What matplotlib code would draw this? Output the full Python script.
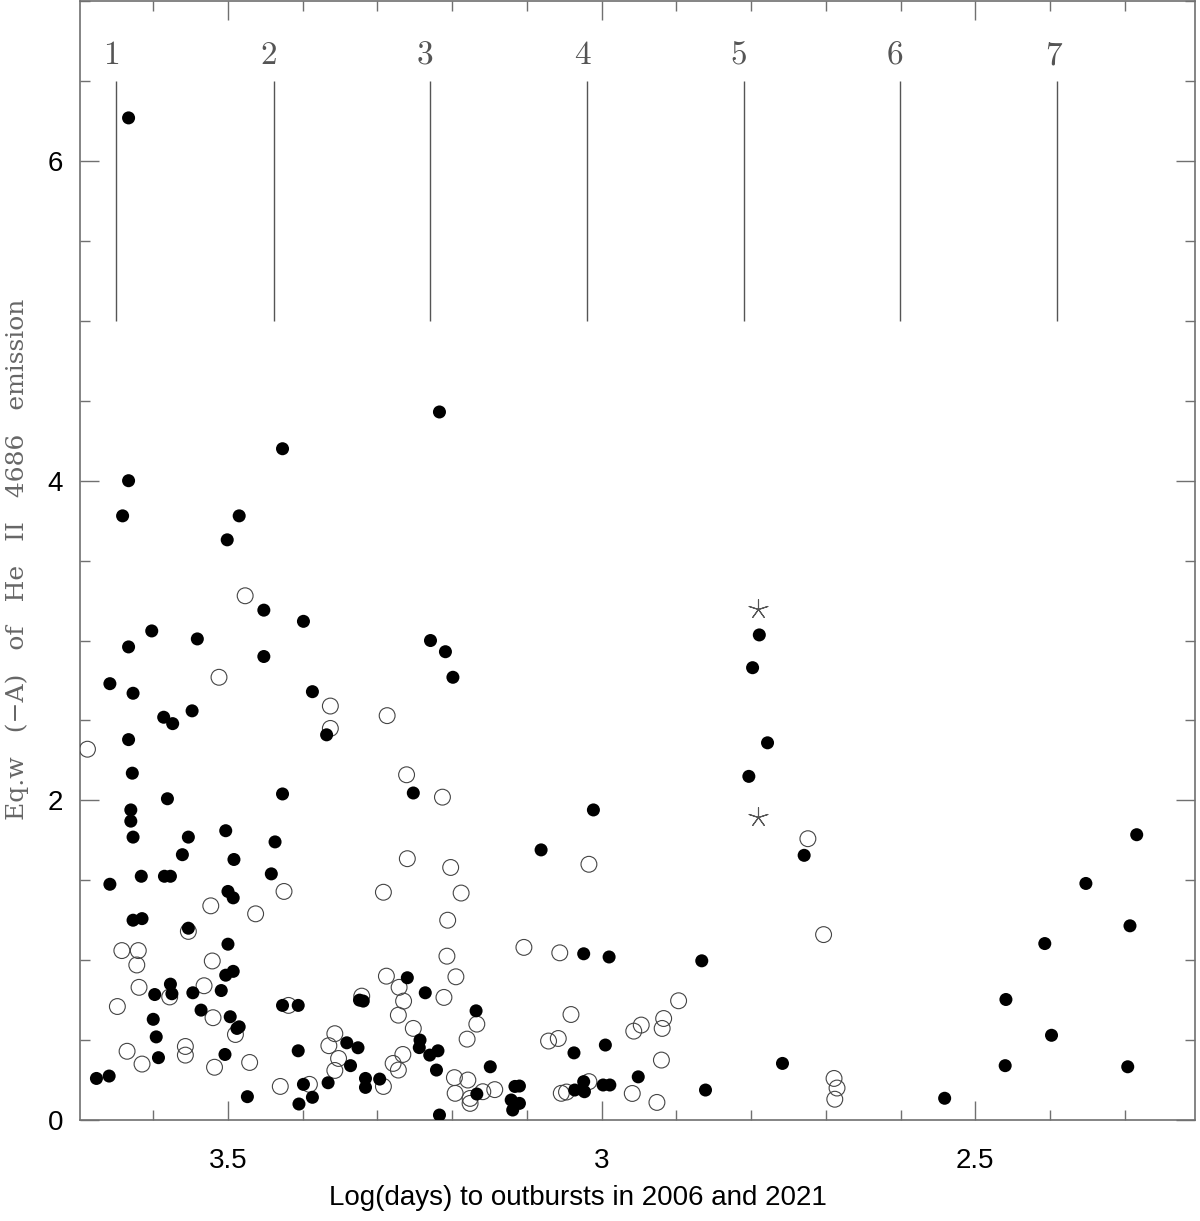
import matplotlib
matplotlib.use('Agg')
import matplotlib.pyplot as plt
from matplotlib.ticker import MultipleLocator

# He II 4686 equivalent widths vs log(days) to outbursts
filled_x = [3.633, 3.427, 3.633, 3.641, 3.485, 3.501, 3.452, 3.399, 3.602, 3.541,
            3.633, 3.452, 3.658, 3.627, 3.387, 3.586, 3.574, 3.548, 3.368, 3.633,
            3.628, 3.427, 3.581, 3.630, 3.630, 3.627, 3.553, 3.503, 3.437, 3.561,
            3.492, 3.442, 3.658, 3.616, 3.585, 3.577, 3.500, 3.493, 3.627, 3.615,
            3.553, 3.500, 3.503, 3.493, 3.577, 3.575, 3.509, 3.598, 3.547, 3.427,
            3.406, 3.324, 3.319, 3.536, 3.600, 3.497, 3.488, 3.485, 3.596, 3.341,
            3.326, 3.336, 3.406, 3.593, 3.504, 3.676, 3.659, 3.399, 3.366, 3.316,
            3.316, 3.297, 3.474, 3.387, 3.405,
            3.011, 3.081, 3.024, 2.990, 2.866, 3.260, 3.236, 3.168, 3.243, 3.244,
            2.995, 3.230, 3.219, 3.037, 2.758, 3.221, 3.149, 2.951, 3.116, 3.110,
            3.024, 2.998, 2.989, 3.167, 3.036, 3.023, 2.861, 3.121, 3.110, 3.119,
            3.217,
            3.217, 2.789, 3.229, 3.209, 3.199, 2.798, 2.778, 2.803, 3.252,
            2.729, 2.284, 2.352, 2.293, 2.407, 2.459, 2.398, 2.460, 2.296, 2.541]
filled_y = [6.27, 4.20, 4.00, 3.78, 3.78, 3.63, 3.19, 3.12, 3.06, 3.01,
            2.96, 2.90, 2.73, 2.67, 2.68, 2.52, 2.48, 2.56, 2.41, 2.38,
            2.17, 2.04, 2.01, 1.94, 1.87, 1.77, 1.77, 1.81, 1.74, 1.66,
            1.63, 1.54, 1.475, 1.525, 1.525, 1.525, 1.43, 1.39, 1.25, 1.26,
            1.20, 1.10, 0.906, 0.93, 0.85, 0.79, 0.81, 0.785, 0.796, 0.717,
            0.717, 0.75, 0.744, 0.6875, 0.63, 0.646, 0.573, 0.583, 0.52, 0.483,
            0.452, 0.34, 0.433, 0.39, 0.41, 0.26, 0.275, 0.223, 0.233, 0.26,
            0.204, 0.256, 0.146, 0.142, 0.10,
            1.94, 1.69, 1.04, 1.02, 0.996, 0.89, 0.796, 0.683, 0.50, 0.453,
            0.469, 0.406, 0.433, 0.42, 0.354, 0.3125, 0.333, 0.27, 0.21, 0.2125,
            0.24, 0.219, 0.219, 0.1625, 0.1875, 0.177, 0.1875, 0.125, 0.104, 0.0625,
            0.031,
            4.43, 3.035, 3.00, 2.93, 2.77, 2.83, 2.36, 2.15, 2.046,
            1.656, 1.785, 1.48, 1.215, 1.104, 0.754, 0.53, 0.34, 0.333, 0.136]

open_x = [3.688, 3.477, 3.512, 3.363, 3.287, 3.363, 3.261, 3.213, 3.425, 3.523,
          3.463, 3.292, 3.553, 3.642, 3.620, 3.622, 3.521, 3.288, 3.578, 3.619,
          3.532, 3.648, 3.419, 3.321, 3.520, 3.490, 3.357, 3.365, 3.352, 3.357,
          3.557, 3.557, 3.635, 3.615, 3.471, 3.518, 3.430, 3.391, 3.292,
          3.260, 3.017, 3.202, 3.188, 3.206, 3.104, 3.056, 3.207, 3.195, 3.211,
          3.271, 3.265, 3.272, 2.897, 3.167, 3.041, 2.947, 2.957, 2.917, 2.919,
          3.252, 3.180, 3.071, 3.058, 3.266, 2.920, 3.279, 3.272, 3.197, 3.179,
          3.017, 3.196, 3.159, 3.143, 3.176, 3.176, 3.054, 3.047, 2.959, 2.926,
          2.724, 2.703, 2.689, 2.685, 2.688]
open_y = [2.32, 3.28, 2.77, 2.59, 2.53, 2.45, 2.16, 2.02, 1.43, 1.34,
          1.29, 1.425, 1.18, 1.06, 1.06, 0.97, 0.995, 0.90, 0.77, 0.83,
          0.84, 0.71, 0.717, 0.775, 0.64, 0.535, 0.54, 0.465, 0.385, 0.31,
          0.46, 0.406, 0.43, 0.35, 0.36, 0.33, 0.21, 0.223, 0.21,
          1.635, 1.60, 1.58, 1.42, 1.25, 1.08, 1.046, 1.025, 0.896, 0.767,
          0.83, 0.744, 0.656, 0.746, 0.60, 0.66, 0.594, 0.556, 0.635, 0.573,
          0.573, 0.506, 0.494, 0.51, 0.41, 0.375, 0.354, 0.3125, 0.265, 0.25,
          0.24, 0.167, 0.177, 0.19, 0.135, 0.104, 0.167, 0.175, 0.166, 0.11,
          1.76, 1.16, 0.26, 0.20, 0.13]

star_x = [2.791, 2.791]
star_y = [3.198, 1.896]

# outburst markers 1..7
event_x = [3.650, 3.439, 3.230, 3.020, 2.810, 2.601, 2.390]
event_labels = ['1', '2', '3', '4', '5', '6', '7']

GREY = '#707070'

fig = plt.figure(figsize=(12, 12.21), dpi=100)
ax = fig.add_axes([80 / 1200, 1 - 1120 / 1221, 1115 / 1200, 1120 / 1221 - 0.001])

ax.scatter(open_x, open_y, s=130, facecolors='none', edgecolors='#444444',
           linewidths=0.8, zorder=3)
ax.scatter(filled_x, filled_y, s=88, color='black', edgecolors='none', zorder=4)
ax.scatter(star_x, star_y, s=200, marker=(5, 2, 0), color='#555555',
           linewidths=0.8, zorder=4)

for xv, lab in zip(event_x, event_labels):
    ax.vlines(xv, 5.0, 6.5, color='#555555', lw=1.0, zorder=2)
    ax.text(xv + 0.006, 6.66, lab, ha='center', va='center', fontsize=24,
            family=['cmr10', 'DejaVu Serif'], color='#555555')

ax.set_xlim(3.698, 2.206)
ax.set_ylim(0, 7)

ax.xaxis.set_minor_locator(MultipleLocator(0.1))
ax.yaxis.set_minor_locator(MultipleLocator(0.5))
ax.set_xticks([3.5, 3.0, 2.5])
ax.set_xticklabels(['3.5', '3', '2.5'])
ax.set_yticks([0, 2, 4, 6])
ax.set_yticklabels(['0', '2', '4', '6'])

ax.tick_params(which='both', direction='in', top=True, right=True, color=GREY,
               width=1.0, labelsize=20, labelfontfamily='Liberation Sans')
ax.tick_params(which='major', length=14)
ax.tick_params(which='minor', length=7)
ax.tick_params(axis='x', which='major', pad=20)
ax.tick_params(axis='y', which='major', pad=12)

for sp in ax.spines.values():
    sp.set_color(GREY)
    sp.set_linewidth(1.2)

fig.text(578 / 1200, 1 - 1198 / 1221, 'Log(days) to outbursts in 2006 and 2021',
         ha='center', va='center', fontsize=20, family='Liberation Sans')
fig.text(17 / 1200, 1 - 559 / 1221,
         'Eq.w   (\u2212A)   of   He   II   4686   emission',
         ha='center', va='center', rotation=90, fontsize=18,
         family=['DejaVu Serif'], color='#666666')

fig.savefig('out.png', dpi=100, facecolor='white')
plt.close(fig)
